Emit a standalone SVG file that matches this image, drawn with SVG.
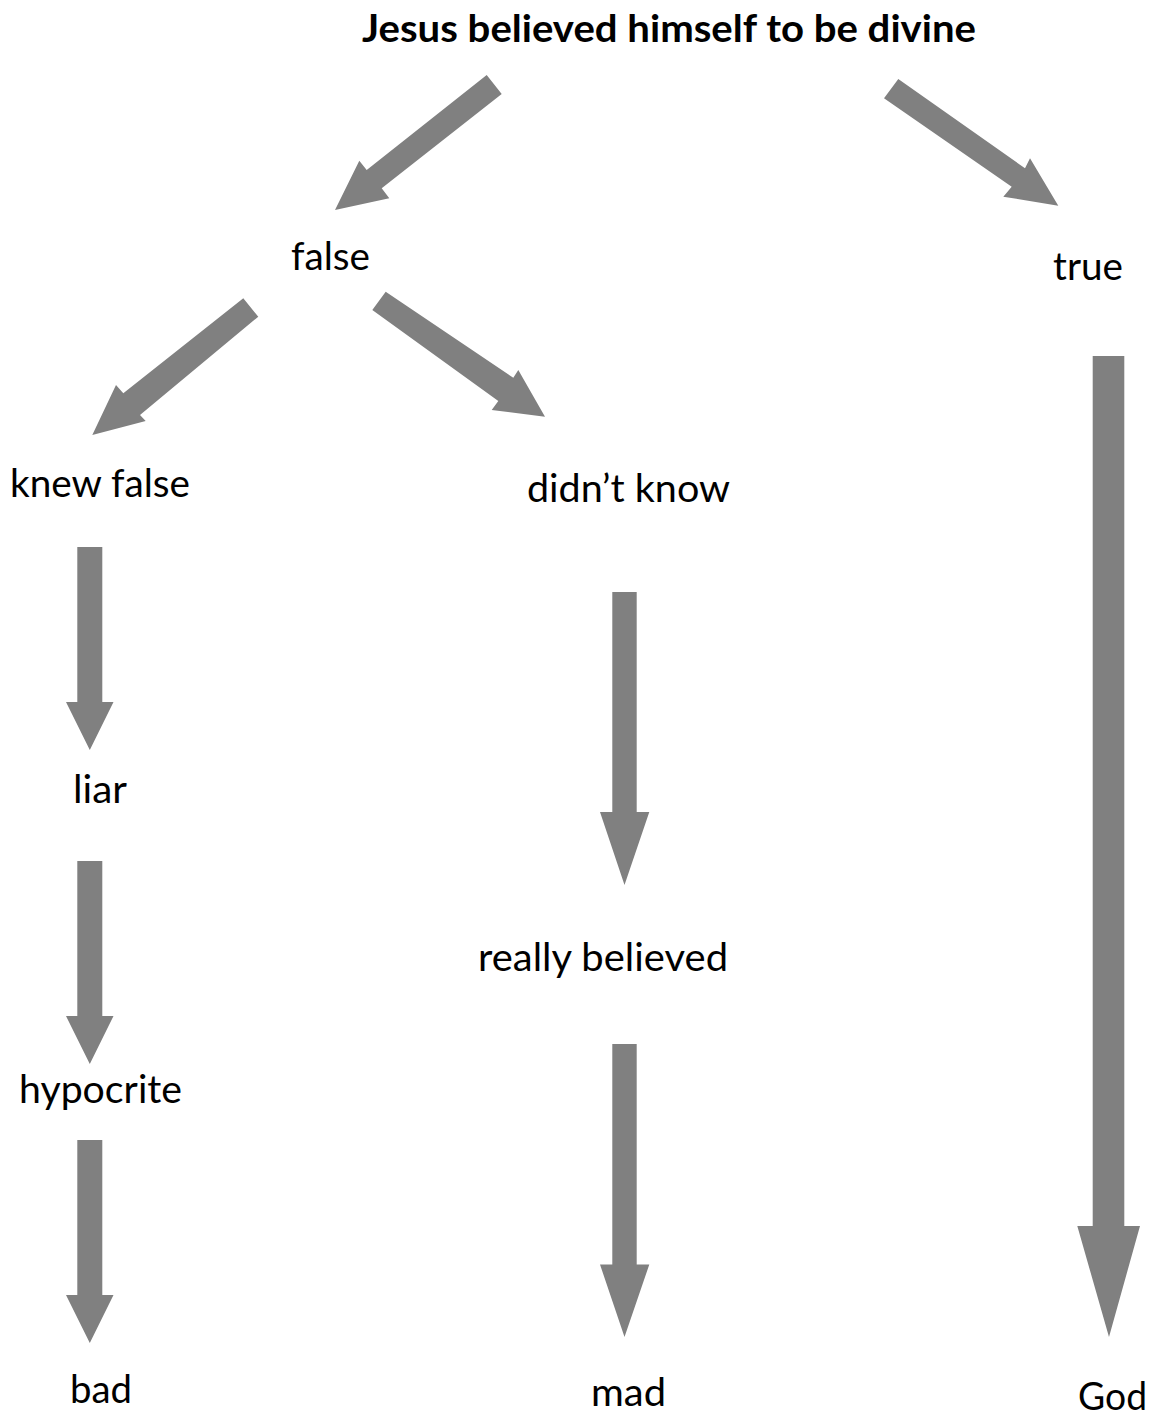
<svg xmlns="http://www.w3.org/2000/svg" width="1152" height="1416" viewBox="0 0 1152 1416">
<style>
.arrow{fill:#808080;stroke:none}
.lbl{font-family:Lato,"Open Sans","Liberation Sans",sans-serif;font-size:38px;fill:#000;text-anchor:middle}
.title{font-weight:bold}
</style>
<rect width="1152" height="1416" fill="#fff"/>
<g id="connectors">
<polygon class="arrow" points="486.7,75 501.7,94 381.7,188.3 389.3,198.3 335,210 359.3,160.7 366.7,170"/>
<polygon class="arrow" points="898.3,79 1025,168.3 1030,158.3 1058.3,205.7 1003.3,196.7 1011.7,186.7 884,98.3"/>
<polygon class="arrow" points="243.3,298.3 258.3,316.7 140,415 145.7,421 92.3,435 116,385 123.3,393.3"/>
<polygon class="arrow" points="385.7,291.7 513.3,377.7 518.3,370 545,416.7 491.7,410 498.3,401 372.3,310"/>
<polygon class="arrow" points="77.3,547 102.3,547 102.3,702 113.5,702 89.8,750 66,702 77.3,702"/>
<polygon class="arrow" points="77.3,861 102.3,861 102.3,1016 113.5,1016 89.8,1064 66,1016 77.3,1016"/>
<polygon class="arrow" points="77.3,1140 102.3,1140 102.3,1295 113.5,1295 89.8,1343 66,1295 77.3,1295"/>
<polygon class="arrow" points="612.3,592 636.7,592 636.7,812 649.3,812 624.5,885 600,812 612.3,812"/>
<polygon class="arrow" points="612.3,1044 636.7,1044 636.7,1264.5 649.3,1264.5 624.5,1337 600,1264.5 612.3,1264.5"/>
<polygon class="arrow" points="1092.7,356 1124.3,356 1124.3,1226 1140,1226 1109,1337 1077.3,1226 1092.7,1226"/>
</g>
<g id="n-title"><text class="lbl title" x="669" y="42" textLength="614" lengthAdjust="spacingAndGlyphs">Jesus believed himself to be divine</text></g>
<g id="n-false"><text class="lbl" x="330.5" y="270" textLength="79" lengthAdjust="spacingAndGlyphs">false</text></g>
<g id="n-true"><text class="lbl" x="1088" y="280" textLength="70" lengthAdjust="spacingAndGlyphs">true</text></g>
<g id="n-knewfalse"><text class="lbl" x="100" y="497" textLength="180" lengthAdjust="spacingAndGlyphs">knew false</text></g>
<g id="n-didntknow"><text class="lbl" x="628.5" y="502" textLength="203" lengthAdjust="spacingAndGlyphs">didn’t know</text></g>
<g id="n-liar"><text class="lbl" x="100" y="803" textLength="54" lengthAdjust="spacingAndGlyphs">liar</text></g>
<g id="n-reallybelieved"><text class="lbl" x="603" y="971" textLength="250" lengthAdjust="spacingAndGlyphs">really believed</text></g>
<g id="n-hypocrite"><text class="lbl" x="100.5" y="1103" textLength="163" lengthAdjust="spacingAndGlyphs">hypocrite</text></g>
<g id="n-bad"><text class="lbl" x="101" y="1403" textLength="62" lengthAdjust="spacingAndGlyphs">bad</text></g>
<g id="n-mad"><text class="lbl" x="628.5" y="1406" textLength="75" lengthAdjust="spacingAndGlyphs">mad</text></g>
<g id="n-god"><text class="lbl" x="1112.5" y="1410" textLength="69" lengthAdjust="spacingAndGlyphs">God</text></g>
</svg>
